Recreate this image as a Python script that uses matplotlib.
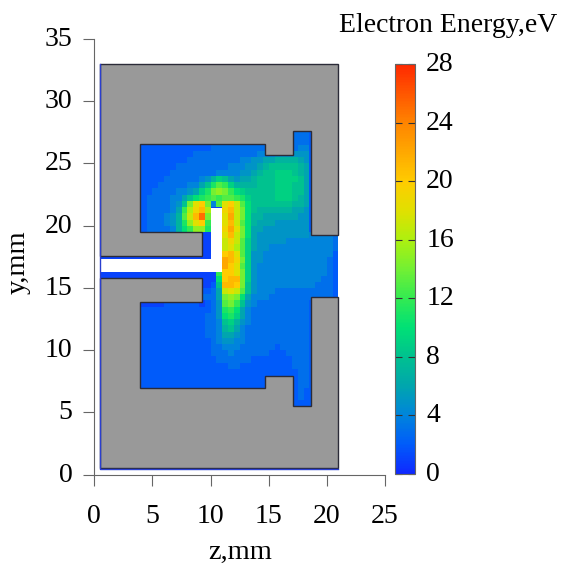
"""Electron energy map on the z-y plane of the discharge cell."""

import matplotlib

matplotlib.use("Agg")
import matplotlib.pyplot as plt
import numpy as np
from matplotlib.colors import LinearSegmentedColormap
from matplotlib.transforms import ScaledTranslation

plt.rcParams["font.family"] = ["Liberation Serif", "DejaVu Serif"]

# cell centres run z = 4.25 ... 20.75, rows run y = 27.25 down to 5.75
energy_rows = [
    [2,2,2,2,2,2,2,2,2,2, 2,2,2,2,2,2,2,2,2,2, 2,2,2,2,2,2,3,3,3,2, 2,2,2,2],
    [2,2,2,2,2,2,2,2,2,2, 2,2,2,2,2,2,2,2,2,2, 2,2,2,2,2,2,3,3,3,2, 2,2,2,2],
    [2,2,2,2,2,2,2,2,2,2, 2,2,3,3,3,3,3,3,3,3, 3,3,3,3,3,3,3,4,4,2, 2,2,2,2],
    [2,2,2,2,2,2,2,2,2,3, 3,3,3,3,3,3,3,3,3,3, 4,4,4,5,5,5,5,5,5,2, 2,2,2,2],
    [2,2,2,2,2,2,2,2,3,3, 3,3,3,3,3,3,3,4,4,5, 5,6,6,7,7,7,7,6,5,2, 2,2,2,2],
    [2,2,2,2,2,2,3,3,3,3, 3,3,3,3,3,4,4,4,5,5, 6,7,8,8,8,8,8,7,6,2, 2,2,2,2],
    [2,2,2,2,2,3,3,3,3,3, 3,3,3,4,4,4,4,5,5,6, 7,8,8,9,9,9,8,7,6,2, 2,2,2,2],
    [2,2,2,2,3,3,3,3,3,3, 4,5,7,9,8,6,5,6,6,7, 8,8,8,9,9,9,9,8,6,2, 2,2,2,2],
    [2,2,2,3,3,3,3,3,4,4, 6,8,11,13,12,9,7,7,7,7, 8,8,8,9,9,9,8,8,6,2, 2,2,2,2],
    [2,2,3,3,3,3,4,4,5,6, 9,11,14,15,14,12,10,9,8,8, 8,8,8,9,9,9,8,8,6,2, 2,2,2,2],
    [2,3,3,3,3,4,4,6,8,10, 11,12,13,12,13,13,12,11,9,8, 8,8,8,9,9,9,8,7,6,2, 2,2,2,2],
    [2,3,3,3,3,4,5,8,14,18, 20,14,4,13,18,20,17,13,10,8, 8,8,8,8,8,8,7,7,6,2, 2,2,2,2],
    [2,3,3,3,3,4,6,12,16,19, 21,16,1,1,19,21,17,14,10,8, 7,7,7,7,7,7,6,6,5,2, 2,2,2,2],
    [2,3,3,3,4,5,7,13,17,21, 25,14,1,1,18,22,17,14,10,7, 7,6,6,6,6,6,6,5,5,2, 2,2,2,2],
    [2,3,3,3,4,5,7,11,15,18, 20,12,1,1,18,21,17,13,10,7, 6,6,6,5,5,5,5,5,5,2, 2,2,2,2],
    [2,3,3,3,3,4,7,10,12,15, 15,11,1,1,19,22,18,14,10,6, 6,5,5,5,5,5,5,5,5,2, 2,2,2,2],
    [1,1,1,1,1,1,1,1,1,1, 1,1,1,1,18,21,17,14,10,6, 5,5,5,5,5,5,5,5,5,4, 4,4,4,3],
    [1,1,1,1,1,1,1,1,1,1, 1,1,1,1,17,19,17,13,9,6, 5,5,5,5,5,4,4,4,4,4, 4,4,4,3],
    [1,1,1,1,1,1,1,1,1,1, 1,1,1,1,17,18,16,13,9,6, 5,5,4,4,4,4,4,4,4,4, 4,4,4,3],
    [1,1,1,1,1,1,1,1,1,1, 1,1,1,1,20,21,18,13,9,5, 5,4,4,4,4,4,4,4,4,4, 4,4,4,2],
    [1,1,1,1,1,1,1,1,1,1, 1,1,1,1,22,21,19,14,9,5, 5,4,4,4,4,4,4,4,4,4, 4,4,3,2],
    [1,1,1,1,1,1,1,1,1,1, 1,1,1,1,22,20,18,13,9,5, 4,4,4,4,4,4,4,4,4,4, 4,4,3,2],
    [1,1,1,1,1,1,1,1,1,1, 1,1,1,12,20,20,18,14,9,5, 4,4,4,4,4,4,4,4,4,4, 4,4,3,2],
    [1,1,1,1,1,1,1,1,1,1, 1,1,1,10,20,21,21,14,9,5, 4,4,4,4,4,4,4,4,4,4, 4,3,3,2],
    [1,1,1,1,1,1,1,1,1,1, 1,1,2,8,21,21,20,14,8,5, 4,4,4,4,4,4,4,4,4,4, 3,3,3,2],
    [1,1,1,1,1,1,1,1,1,1, 2,2,3,6,17,18,17,13,8,5, 4,4,4,3,3,3,3,3,3,3, 3,3,3,2],
    [1,1,1,1,1,1,1,1,1,1, 3,3,3,6,14,15,14,10,6,4, 4,4,3,3,3,3,3,3,3,3, 3,3,3,2],
    [1,1,1,1,2,2,2,2,2,2, 1,2,3,5,13,14,12,8,5,4, 3,3,3,3,3,3,3,3,3,2, 2,2,2,2],
    [2,2,2,2,2,2,2,2,2,2, 2,2,3,5,11,12,10,6,4,3, 3,3,3,3,3,3,3,3,3,2, 2,2,2,2],
    [2,2,2,2,2,2,2,2,2,2, 2,3,3,5,10,11,9,6,4,3, 3,3,3,3,3,3,3,3,3,2, 2,2,2,2],
    [2,2,2,2,2,2,2,2,2,2, 2,3,3,4,8,9,7,5,4,3, 3,3,3,3,3,3,3,3,3,2, 2,2,2,2],
    [2,2,2,2,2,2,2,2,2,2, 2,3,3,4,7,8,6,4,3,3, 3,3,3,3,3,3,3,3,3,2, 2,2,2,2],
    [2,2,2,2,2,2,2,2,2,2, 2,3,3,4,6,6,5,4,3,3, 3,3,3,3,3,3,3,3,3,2, 2,2,2,2],
    [2,2,2,2,2,2,2,2,2,2, 2,2,3,4,5,5,4,4,3,3, 3,3,3,3,3,3,3,3,3,2, 2,2,2,2],
    [2,2,2,2,2,2,2,2,2,2, 2,2,3,3,4,4,4,3,3,3, 3,3,3,2,3,3,3,3,3,2, 2,2,2,2],
    [2,2,2,2,2,2,2,2,2,2, 2,2,3,3,3,4,3,3,3,3, 3,3,2,2,2,3,3,3,3,2, 2,2,2,2],
    [2,2,2,2,2,2,2,2,2,2, 2,2,2,3,3,3,3,3,3,2, 2,2,2,2,2,2,3,3,3,2, 2,2,2,2],
    [2,2,2,2,2,2,2,2,2,2, 2,2,2,2,2,3,3,2,2,2, 2,2,2,2,2,2,3,3,3,2, 2,2,2,2],
    [2,2,2,2,2,2,2,2,2,2, 2,2,2,2,2,2,2,2,2,2, 2,2,2,2,2,2,2,3,3,2, 2,2,2,2],
    [2,2,2,2,2,2,2,2,2,2, 2,2,2,2,2,2,2,2,2,2, 2,2,2,2,2,2,2,3,3,2, 2,2,2,2],
    [2,2,2,2,2,2,2,2,2,2, 2,2,2,2,2,2,2,2,2,2, 2,2,2,2,2,2,2,3,3,2, 2,2,2,2],
    [1,1,1,1,1,1,1,1,1,1, 1,1,1,1,1,1,1,1,1,1, 1,1,1,1,1,1,2,3,2,2, 2,2,2,2],
    [1,1,1,1,1,1,1,1,1,1, 1,1,1,1,1,1,1,1,1,1, 1,1,1,1,1,1,2,3,2,2, 2,2,2,2],
    [1,1,1,1,1,1,1,1,1,1, 1,1,1,1,1,1,1,1,1,1, 1,1,1,1,1,1,2,2,2,2, 2,2,2,2],
]
# thin gas channel left of the cavity, z = 0.5 ... 4, y = 15.5 ... 18
channel_rows = [
    [1, 1, 1, 1, 1, 1, 1],
    [1, 1, 1, 1, 1, 1, 1],
    [1, 1, 1, 1, 1, 1, 1],
    [1, 1, 1, 1, 1, 1, 1],
    [1, 1, 1, 1, 1, 1, 1],
]

# solid walls and the powered electrode, in mm
upper_wall = [(0.5, 33), (21, 33), (21, 19.25), (18.6, 19.25), (18.6, 27.6), (17.1, 27.6), (17.1, 25.7),
              (14.7, 25.7), (14.7, 26.6), (3.95, 26.6), (3.95, 19.5), (9.3, 19.5), (9.3, 17.55), (0.5, 17.55)]
lower_wall = [(0.5, 15.8), (9.3, 15.8), (9.3, 13.85), (3.95, 13.85), (3.95, 7), (14.7, 7), (14.7, 7.9), (17.1, 7.9),
              (17.1, 5.5), (18.6, 5.5), (18.6, 14.3), (21, 14.3), (21, 0.5), (0.5, 0.5)]
electrode = [(0.5, 16.3), (11, 16.3), (11, 21.4), (10, 21.4), (10, 17.3), (0.5, 17.3)]
wall_rim = [(0.47, 33), (0.47, 0.45), (21, 0.45)]

x_ticks = [0, 5, 10, 15, 20, 25]
y_ticks = [0, 5, 10, 15, 20, 25, 30, 35]
bar_ticks = [0, 4, 8, 12, 16, 20, 24, 28]

color_stops = [
    (0 / 28, (0.06, 0.16, 1.0)),
    (2 / 28, (0.0, 0.36, 0.98)),
    (4 / 28, (0.0, 0.52, 0.86)),
    (6 / 28, (0.0, 0.65, 0.68)),
    (8 / 28, (0.0, 0.76, 0.56)),
    (10 / 28, (0.0, 0.88, 0.46)),
    (12 / 28, (0.2, 0.92, 0.32)),
    (14 / 28, (0.45, 0.94, 0.2)),
    (16 / 28, (0.68, 0.94, 0.06)),
    (18 / 28, (0.88, 0.88, 0.0)),
    (20 / 28, (1.0, 0.8, 0.0)),
    (24 / 28, (1.0, 0.52, 0.0)),
    (28 / 28, (1.0, 0.16, 0.0)),
]
cmap = LinearSegmentedColormap.from_list("electron_energy", color_stops)

fig = plt.figure(figsize=(5.61, 5.64), dpi=100)
width, height = 561, 564
ax = fig.add_axes([94.3 / width, 1 - 474.7 / height, 290.7 / width, 435.7 / height])
ax.set_xlim(0, 25)
ax.set_ylim(0, 35)

energy = np.array(energy_rows, dtype=float)[::-1]
z_edges = np.arange(energy.shape[1] + 1) * 0.5 + 4
y_edges = np.arange(energy.shape[0] + 1) * 0.5 + 5.5
mesh = ax.pcolormesh(z_edges, y_edges, energy, cmap=cmap, vmin=0, vmax=28)

channel = np.array(channel_rows, dtype=float)
ax.pcolormesh(np.arange(8) * 0.5 + 0.5, np.arange(6) * 0.5 + 15.5, channel, cmap=cmap, vmin=0, vmax=28)

ax.plot(*zip(*wall_rim), color="#2a3fd0", linewidth=1.0)
for wall in [upper_wall, lower_wall]:
    ax.fill(*zip(*wall), facecolor="#999999", edgecolor="#2b2b38", linewidth=1.0)
ax.fill(*zip(*electrode), facecolor="white", edgecolor="none")

for side in ["top", "right"]:
    ax.spines[side].set_visible(False)
for side in ["left", "bottom"]:
    ax.spines[side].set_color("#666666")
    ax.spines[side].set_linewidth(0.8)
ax.set_xticks(x_ticks)
ax.set_yticks(y_ticks)
ax.tick_params(length=7.8, width=0.8, color="#666666", labelsize=20)
ax.tick_params(axis="x", pad=13)
ax.tick_params(axis="y", pad=8)
ax.set_xlabel("z,mm", fontsize=20.5, va="center")
ax.set_ylabel("y,mm", fontsize=20.5, va="center")
ax.xaxis.set_label_coords((240 - 94.3) / 290.7, -(552 - 474.7) / 435.7)
ax.yaxis.set_label_coords((18 - 94.3) / 290.7, (474.7 - 262) / 435.7)

label_lift = ScaledTranslation(0, 2.5 / 72 * 0.72, fig.dpi_scale_trans)
for label in ax.get_yticklabels():
    label.set_transform(label.get_transform() + label_lift)

cax = fig.add_axes([395 / width, 1 - 474 / height, 20 / width, 410 / height])
bar = fig.colorbar(mesh, cax=cax)
bar.set_ticks(bar_ticks)
bar.ax.tick_params(direction="in", left=True, right=True, length=5, width=0.8, color="#333333", labelsize=20, pad=8)
bar.outline.set_edgecolor("#666666")
bar.outline.set_linewidth(0.8)
for label in bar.ax.get_yticklabels():
    label.set_transform(label.get_transform() + label_lift)

fig.text(448 / width, 1 - 26 / height, "Electron Energy,eV", fontsize=20, ha="center", va="center")

fig.savefig("out.png", dpi=100)
plt.close(fig)
